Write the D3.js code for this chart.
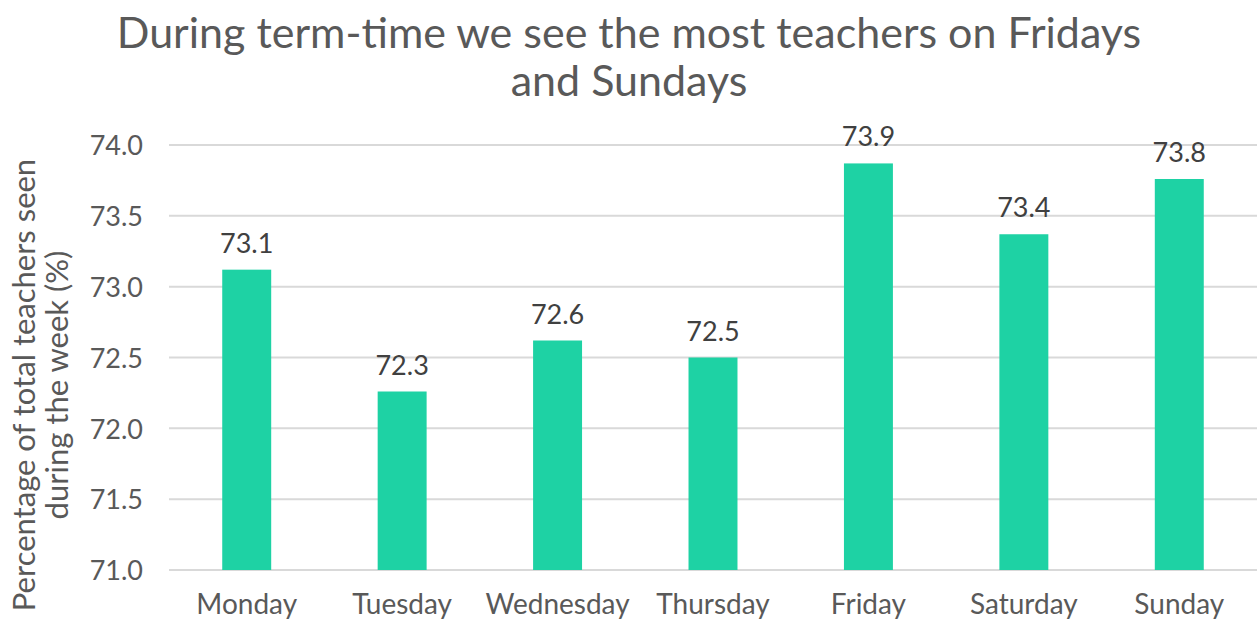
<!DOCTYPE html>
<html>
<head>
<meta charset="utf-8">
<script src="https://cdn.jsdelivr.net/npm/d3@7"></script>
<style>
  body { margin: 0; background: #fff; }
  svg { display: block; font-family: Lato, "Open Sans", sans-serif; }
</style>
</head>
<body>
<svg id="chart" width="1257" height="620"></svg>
<script>
// data
var days = ["Monday", "Tuesday", "Wednesday", "Thursday", "Friday", "Saturday", "Sunday"];
var values = [73.12, 72.26, 72.62, 72.50, 73.87, 73.37, 73.76];
var yTicks = [71.0, 71.5, 72.0, 72.5, 73.0, 73.5, 74.0];
var titleLines = ["During term-time we see the most teachers on Fridays", "and Sundays"];
var yTitleLines = ["Percentage of total teachers seen", "during the week (%)"];

var svg = d3.select("#chart");
var plotLeft = 169, plotRight = 1257, plotTop = 145, plotBottom = 570;

var x = d3.scaleBand()
  .domain(days)
  .range([plotLeft, plotRight])
  .paddingInner(0.685)
  .paddingOuter(0.3425);

var y = d3.scaleLinear()
  .domain([71, 74])
  .range([plotBottom, plotTop]);

// title
svg.append("g").selectAll("text")
  .data(titleLines)
  .enter().append("text")
  .attr("x", 629)
  .attr("y", function(d, i) { return 48 + i * 48; })
  .attr("text-anchor", "middle")
  .attr("fill", "#595959")
  .attr("font-size", 43)
  .text(function(d) { return d; });

// grid lines
svg.append("g").selectAll("line")
  .data(yTicks)
  .enter().append("line")
  .attr("x1", plotLeft)
  .attr("x2", plotRight)
  .attr("y1", function(d) { return y(d); })
  .attr("y2", function(d) { return y(d); })
  .style("stroke", "#d9d9d9")
  .style("stroke-width", "2px");

// y axis labels
var yAxis = d3.axisLeft(y).tickValues(yTicks).tickFormat(d3.format(".1f")).tickSize(0).tickPadding(0);
var gy = svg.append("g")
  .attr("transform", "translate(143,0)")
  .call(yAxis);
gy.select(".domain").remove();
gy.selectAll("text")
  .attr("font-family", "Lato, sans-serif")
  .attr("font-size", 27)
  .attr("fill", "#595959")
  .attr("dy", "0.36em");

// bars
svg.append("g").selectAll("rect")
  .data(values)
  .enter().append("rect")
  .attr("x", function(d, i) { return x(days[i]); })
  .attr("width", x.bandwidth())
  .attr("y", function(d) { return y(d); })
  .attr("height", function(d) { return y(71) - y(d); })
  .style("fill", "#1ed2a4");

// value labels
svg.append("g").selectAll("text")
  .data(values)
  .enter().append("text")
  .attr("x", function(d, i) { return x(days[i]) + x.bandwidth() / 2; })
  .attr("y", function(d) { return y(d) - 17; })
  .attr("text-anchor", "middle")
  .attr("fill", "#404040")
  .attr("font-size", 27)
  .text(function(d) { return d3.format(".1f")(d); });

// x axis labels
var xAxis = d3.axisBottom(x).tickSize(0).tickPadding(0);
var gx = svg.append("g")
  .attr("transform", "translate(0,594)")
  .call(xAxis);
gx.select(".domain").remove();
gx.selectAll("text")
  .attr("font-family", "Lato, sans-serif")
  .attr("font-size", 28)
  .attr("fill", "#595959")
  .attr("dy", "0.72em");

// y axis title
svg.append("g")
  .attr("transform", "translate(0,385) rotate(-90)")
  .selectAll("text")
  .data(yTitleLines)
  .enter().append("text")
  .attr("x", 0)
  .attr("y", function(d, i) { return 35 + i * 33; })
  .attr("text-anchor", "middle")
  .attr("fill", "#595959")
  .attr("font-size", 31)
  .text(function(d) { return d; });
</script>
</body>
</html>
